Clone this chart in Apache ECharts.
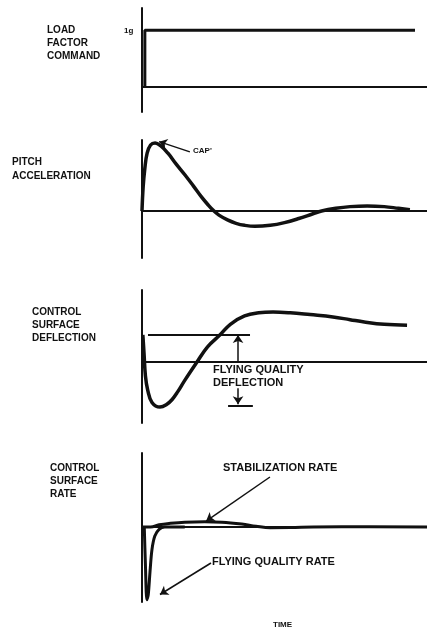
<!DOCTYPE html>
<html>
<head>
    <meta charset="utf-8">
    <title>Control surface response</title>
    <script src="https://cdn.jsdelivr.net/npm/echarts@6/dist/echarts.min.js"></script>
    <style>
        html, body { margin: 0; padding: 0; background: #fff; }
        #main { width: 427px; height: 633px; }
    </style>
</head>
<body>
<div id="main"></div>
<script>
    // time runs 0..10 on every panel
    const loadCommand = [[0.1, 0], [0.1, 1], [9.58, 1]];
    const pitchAccel = [
        [0, 0], [0.04, 0.35], [0.1, 0.63], [0.18, 0.85], [0.3, 0.97], [0.46, 1.0], [0.65, 0.96],
        [0.91, 0.85], [1.2, 0.69], [1.51, 0.53], [1.8, 0.37], [2.1, 0.2], [2.3, 0.1],
        [2.5, 0.01], [2.7, -0.06], [3.0, -0.13], [3.3, -0.18], [3.6, -0.21], [3.96, -0.225],
        [4.5, -0.21], [5.0, -0.17], [5.5, -0.11], [6.0, -0.04], [6.3, 0.0], [6.8, 0.04],
        [7.3, 0.065], [7.9, 0.075], [8.5, 0.065], [9.0, 0.04], [9.4, 0.02]
    ];
    const surfaceDeflection = [
        [0.03, 0.59], [0.07, 0.2], [0.12, -0.3], [0.2, -0.61], [0.35, -0.88], [0.63, -0.98],
        [0.85, -0.93], [1.05, -0.82], [1.25, -0.65], [1.5, -0.4], [1.93, 0.0], [2.3, 0.33],
        [2.74, 0.59], [3.1, 0.82], [3.6, 1.0], [4.1, 1.07], [4.6, 1.087], [5.2, 1.07],
        [5.9, 1.03], [6.7, 0.98], [7.3, 0.92], [7.8, 0.87], [8.5, 0.82], [9.3, 0.80]
    ];
    const flyingQualityRate = [
        [0.08, 0], [0.12, -0.5], [0.17, -0.97], [0.22, -0.9], [0.28, -0.6], [0.35, -0.3],
        [0.45, -0.12], [0.6, -0.03], [0.8, 0], [1.5, 0]
    ];
    const stabilizationRate = [
        [0, 0], [0.3, 0], [0.6, 0.03], [1.0, 0.05], [1.5, 0.065], [2.2, 0.07], [2.8, 0.065],
        [3.5, 0.04], [4.0, 0.01], [4.5, -0.01], [5.2, -0.008], [6.0, 0], [7.0, 0.003], [10, 0]
    ];
    const deflectionLimit = 0.587;
    const deflectionLow = -0.957;

    const ink = '#111';
    const labelFont = 'bold 10px "Liberation Sans", Arial, sans-serif';
    const noteFont = 'bold 11px "Liberation Sans", Arial, sans-serif';
    const smallFont = 'bold 8px "Liberation Sans", Arial, sans-serif';

    // grid boxes: [top, height, yMin, yMax]
    const panels = [
        [8, 104, -0.44, 1.39],
        [140, 118, -0.69, 1.044],
        [290, 133, -1.326, 1.565],
        [453, 149, -1.0, 0.987]
    ];

    const chart = echarts.init(document.getElementById('main'));

    function arrow(from, to) {
        return [{coord: from}, {coord: to}];
    }

    const markStyle = {
        silent: true,
        symbol: ['none', 'arrow'],
        symbolSize: 8,
        label: {show: false},
        lineStyle: {color: ink, width: 1.5, type: 'solid'}
    };

    function txt(x, y, text, font, align) {
        return {
            type: 'text', left: x, top: y - 6,
            style: {text: text, font: font, fill: ink, textAlign: align || 'left'}
        };
    }

    chart.setOption({
        animation: false,
        backgroundColor: '#fff',
        grid: panels.map(p => ({
            left: 142, right: 0, top: p[0], height: p[1], outerBoundsMode: 'none'
        })),
        xAxis: panels.map((p, i) => ({
            type: 'value', gridIndex: i, min: 0, max: 10,
            axisLine: {show: true, onZero: true, lineStyle: {color: ink, width: 2}},
            axisTick: {show: false}, axisLabel: {show: false}, splitLine: {show: false}
        })),
        yAxis: panels.map((p, i) => ({
            type: 'value', gridIndex: i, min: p[2], max: p[3],
            axisLine: {show: true, onZero: false, lineStyle: {color: ink, width: 2}},
            axisTick: {show: false}, axisLabel: {show: false}, splitLine: {show: false}
        })),
        series: [
            {
                type: 'line', xAxisIndex: 0, yAxisIndex: 0, data: loadCommand,
                symbol: 'none', lineStyle: {color: ink, width: 3}
            },
            {
                type: 'line', xAxisIndex: 1, yAxisIndex: 1, data: pitchAccel, smooth: 0.4,
                symbol: 'none', lineStyle: {color: ink, width: 3.5},
                markLine: Object.assign({}, markStyle, {
                    data: [arrow([1.68, 0.87], [0.6, 1.02])]
                })
            },
            {
                type: 'line', xAxisIndex: 2, yAxisIndex: 2, data: surfaceDeflection, smooth: 0.4,
                symbol: 'none', lineStyle: {color: ink, width: 3.5},
                markLine: Object.assign({}, markStyle, {
                    data: [
                        arrow([3.37, 0.0], [3.37, deflectionLimit]),
                        arrow([3.37, -0.57], [3.37, deflectionLow + 0.04]),
                        [{coord: [0.21, deflectionLimit], symbol: 'none', lineStyle: {width: 2}},
                            {coord: [3.79, deflectionLimit], symbol: 'none'}],
                        [{coord: [3.02, deflectionLow], symbol: 'none', lineStyle: {width: 2}},
                            {coord: [3.89, deflectionLow], symbol: 'none'}]
                    ]
                })
            },
            {
                type: 'line', xAxisIndex: 3, yAxisIndex: 3, data: stabilizationRate, smooth: 0.4,
                symbol: 'none', lineStyle: {color: ink, width: 3},
                markLine: Object.assign({}, markStyle, {
                    data: [
                        arrow([4.49, 0.667], [2.25, 0.08]),
                        arrow([2.42, -0.48], [0.63, -0.9])
                    ]
                })
            },
            {
                type: 'line', xAxisIndex: 3, yAxisIndex: 3, data: flyingQualityRate, smooth: 0.3,
                symbol: 'none', lineStyle: {color: ink, width: 3}
            }
        ],
        graphic: [
            txt(47, 31, 'LOAD', labelFont),
            txt(47, 44, 'FACTOR', labelFont),
            txt(47, 57, 'COMMAND', labelFont),
            txt(124, 33, '1g', smallFont),
            txt(12, 163, 'PITCH', labelFont),
            txt(12, 177, 'ACCELERATION', labelFont),
            txt(193, 153, "CAP'", smallFont),
            txt(32, 313, 'CONTROL', labelFont),
            txt(32, 326, 'SURFACE', labelFont),
            txt(32, 339, 'DEFLECTION', labelFont),
            txt(213, 370, 'FLYING QUALITY', noteFont),
            txt(213, 383, 'DEFLECTION', noteFont),
            txt(50, 469, 'CONTROL', labelFont),
            txt(50, 482, 'SURFACE', labelFont),
            txt(50, 495, 'RATE', labelFont),
            txt(223, 468, 'STABILIZATION RATE', noteFont),
            txt(212, 562, 'FLYING QUALITY RATE', noteFont),
            txt(273, 627, 'TIME', smallFont)
        ]
    });
</script>
</body>
</html>
